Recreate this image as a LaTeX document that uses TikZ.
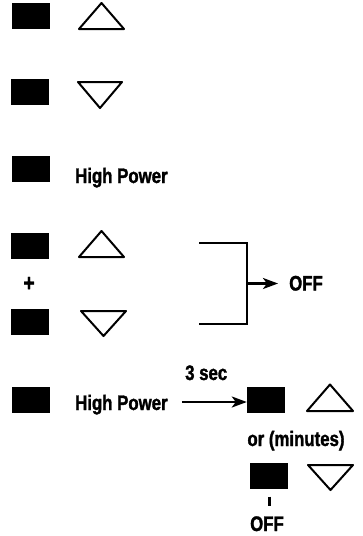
\documentclass[tikz,border=0pt]{standalone}
\usepackage{fontspec}
\setmainfont{Liberation Sans}[FakeStretch=0.8,BoldFeatures={FakeBold=1.5}]
\usepackage{tikz}
\usetikzlibrary{arrows.meta}
\tikzset{
  key/.style={fill=black,minimum width=38pt,minimum height=26pt,inner sep=0pt},
  lbl/.style={font=\fontsize{21}{22}\selectfont\bfseries,inner sep=0pt},
  tri/.style={line width=2pt,line join=round},
  con/.style={line width=2.4pt},
  arr/.style={con,-{Stealth[length=15pt,width=11pt,inset=4pt]}}
}

\begin{document}
\begin{tikzpicture}[x=1pt,y=-1pt]
\useasboundingbox (0,0) rectangle (362,536);
\node[key] (up1) at (31,16) {};
\draw[tri] (79,29) -- (101.5,3) -- (124,29) -- cycle;
\node[key] (dn1) at (30,92) {};
\draw[tri] (78,82) -- (122,82) -- (100,108) -- cycle;
\node[key] (hi1) at (30.5,169) {};
\node[lbl,anchor=base west] (hp1) at (75,183) {High Power};
\node[key] (up2) at (30,246) {};
\draw[tri] (79,257) -- (101.5,231) -- (124,257) -- cycle;
\node[lbl,font=\fontsize{24}{24}\selectfont\bfseries] (plus) at (29,284) {+};
\node[key] (dn2) at (30,322) {};
\draw[tri] (81,311) -- (126,311) -- (103.5,336) -- cycle;
\coordinate (ua) at (199,243);
\coordinate (la) at (199,324);
\coordinate (jn) at (247,283.5);
\draw[con] (ua) -- (ua -| jn) -- (la -| jn) -- (la);
\node[lbl,anchor=base west] (off1) at (289,290.5) {OFF};
\draw[arr,shorten >=11pt] (jn) -- (jn -| off1.west);
\node[key] (hi2) at (30.5,399.5) {};
\node[lbl,anchor=base west] (hp2) at (75,410) {High Power};
\node[lbl,anchor=base west] (sec) at (185,380) {3 sec};
\node[key] (up3) at (266,399.5) {};
\draw[tri] (307,411) -- (330,384.5) -- (353,411) -- cycle;
\draw[arr,shorten <=14pt] (hp2.east |- 0,402) -- (up3.west |- 0,402);
\node[lbl,anchor=base] (min) at (296,446) {or (minutes)};
\node[key] (dn3) at (269,475.5) {};
\draw[tri] (308,465) -- (353,465) -- (330.5,490) -- cycle;
\node[lbl,anchor=base] (off2) at (267,531) {OFF};
\draw[line width=3pt,shorten <=8pt,shorten >=10pt] (dn3.south) -- (dn3.south |- off2.north);
\end{tikzpicture}
\end{document}
